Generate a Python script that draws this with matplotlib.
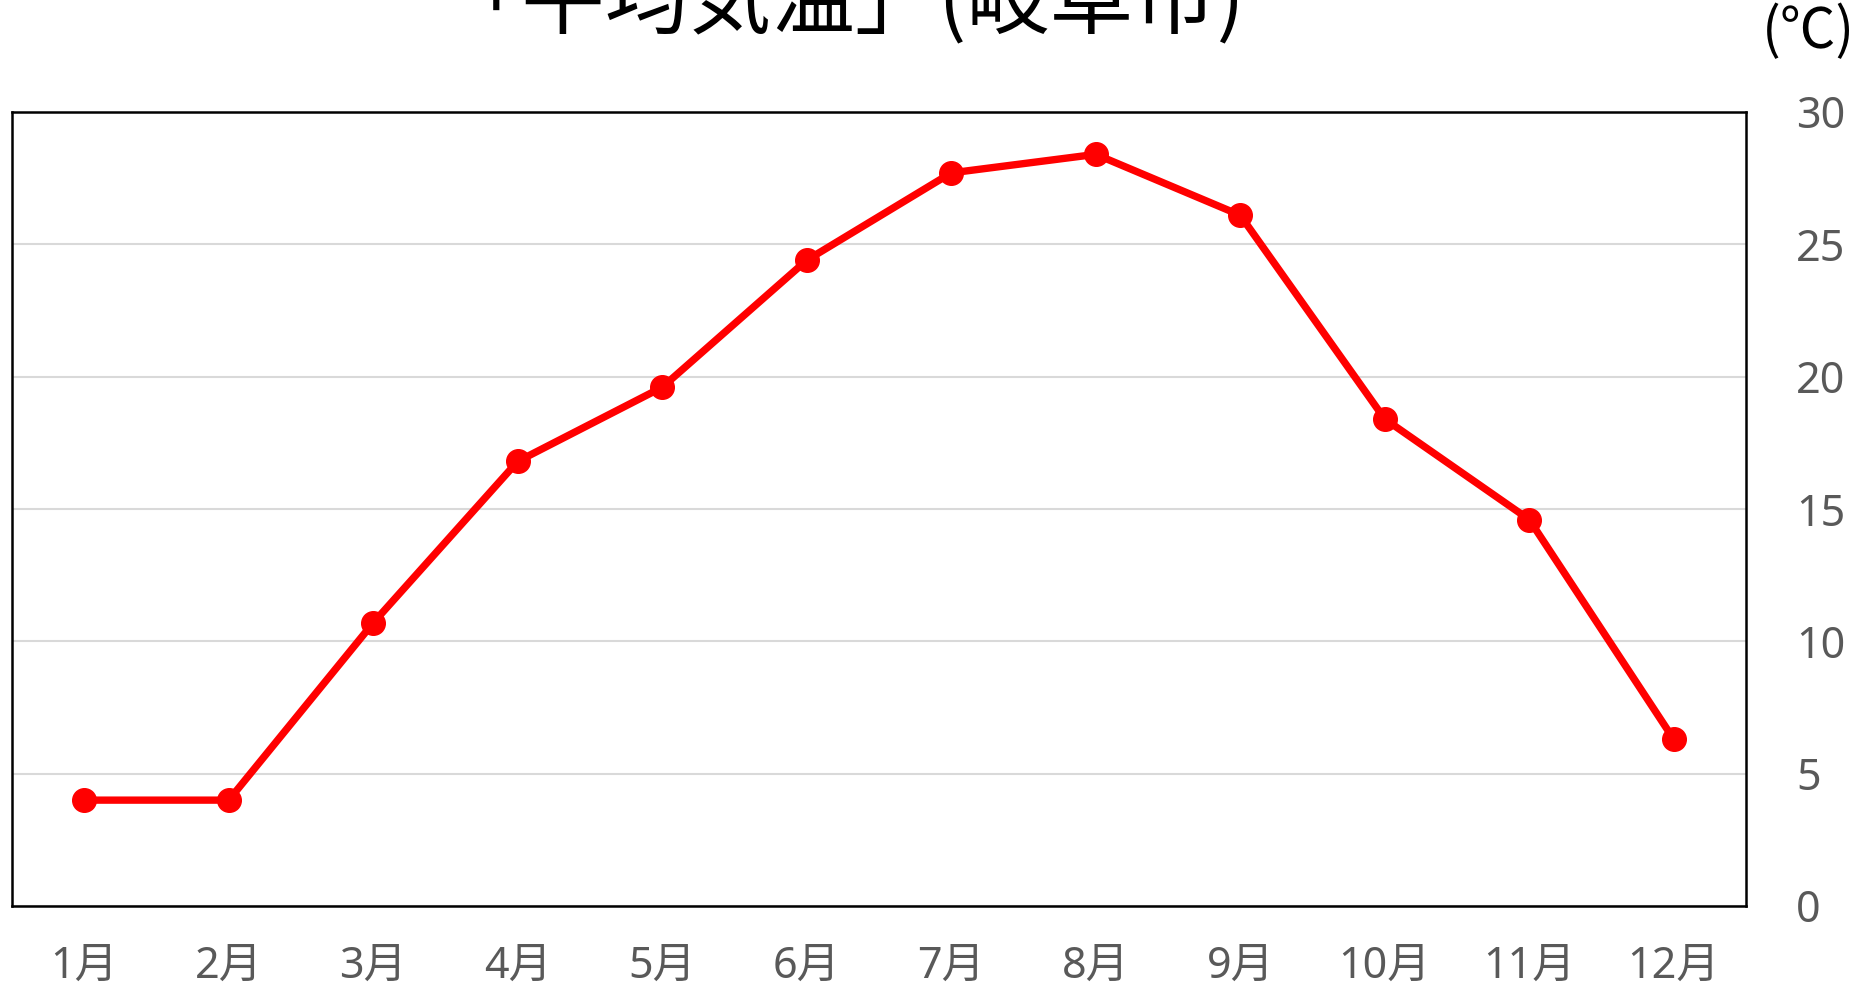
import matplotlib
matplotlib.use('Agg')
import matplotlib.pyplot as plt

plt.rcParams['font.family'] = ['Noto Sans CJK JP', 'DejaVu Sans']

months = ['1月', '2月', '3月', '4月', '5月', '6月', '7月', '8月', '9月', '10月', '11月', '12月']
temps = [4.0, 4.0, 10.7, 16.8, 19.6, 24.4, 27.7, 28.4, 26.1, 18.4, 14.6, 6.3]
yticks = [0, 5, 10, 15, 20, 25, 30]

W, H = 1873, 991
fig = plt.figure(figsize=(W / 100, H / 100), dpi=100)
ax = fig.add_axes([12 / W, (H - 906) / H, 1734 / W, 794 / H])

x = list(range(len(months)))
ax.plot(x, temps, color='#ff0000', linewidth=5.3, marker='o', markersize=17,
        solid_capstyle='round', zorder=3)

ax.set_xlim(-0.5, len(months) - 0.5)
ax.set_ylim(0, 30)
ax.set_xticks(x)
ax.set_xticklabels(months)
ax.set_yticks(yticks)
ax.set_yticklabels([str(v) for v in yticks])

tick_family = ['Noto Sans', 'Noto Sans CJK JP']
ax.yaxis.tick_right()
ax.tick_params(axis='y', length=0, pad=36, labelsize=31, labelcolor='#595959')
ax.tick_params(axis='x', length=0, pad=28, labelsize=31, labelcolor='#595959')
for lab in ax.get_xticklabels() + ax.get_yticklabels():
    lab.set_family(tick_family)

ax.grid(axis='y', color='#d9d9d9', linewidth=1.5, zorder=0)
for s in ax.spines.values():
    s.set_color('black')
    s.set_linewidth(1.8)

fig.text(842 / W, 1 - 27 / H, '「平均気温」(岐阜市)', ha='center', va='baseline',
         fontsize=60, color='black')
fig.text(1808 / W, 1 - 32 / H, '(℃)', ha='center', va='center',
         fontsize=40, color='black')

fig.savefig('out.png', dpi=100)
